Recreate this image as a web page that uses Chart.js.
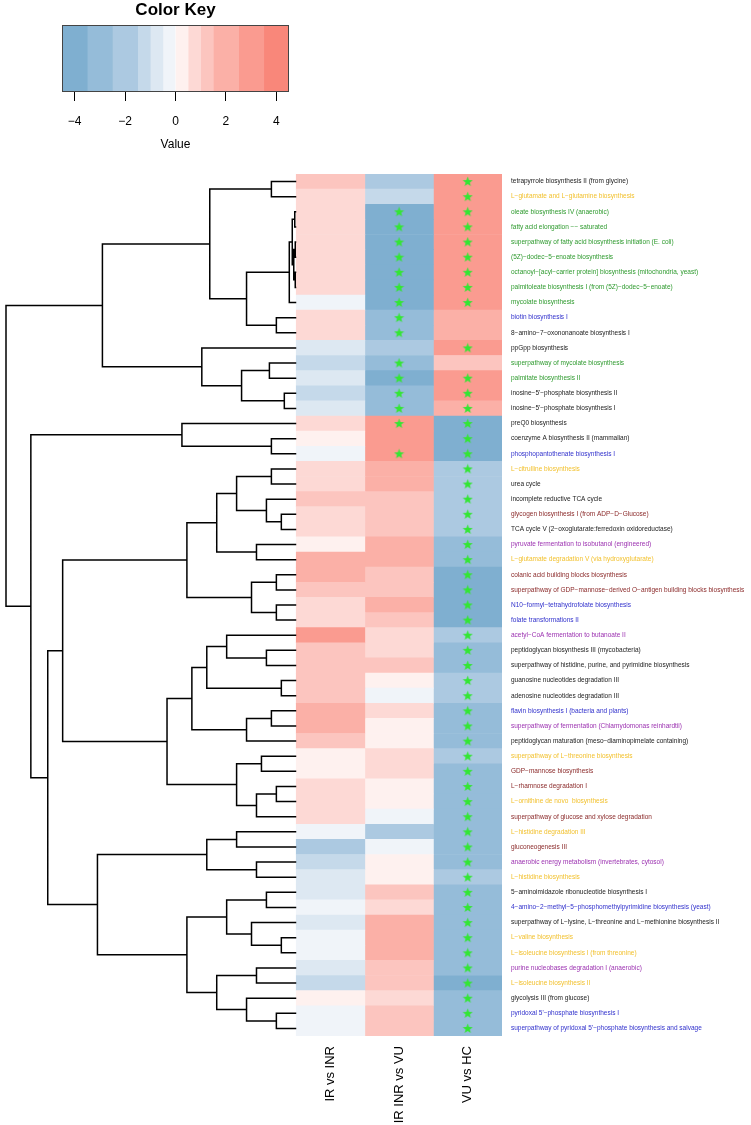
<!DOCTYPE html>
<html><head><meta charset="utf-8">
<script src="https://cdn.jsdelivr.net/npm/chart.js@4.4.1/dist/chart.umd.min.js"></script>
<style>
html,body{margin:0;padding:0;background:#fff;}
#wrap{position:relative;width:751px;height:1125px;overflow:hidden;}
canvas{position:absolute;left:0;top:0;}
</style></head><body>
<div id="wrap">
<canvas id="main" width="751" height="1125"></canvas>
<canvas id="key" width="300" height="160"></canvas>
</div>
<script>
// ---------------- data ----------------
const comparisons = ['IR vs INR', 'IR INR vs VU', 'VU vs HC'];
const pathways = [
 'tetrapyrrole biosynthesis II (from glycine)',
 'L\u2212glutamate and L\u2212glutamine biosynthesis',
 'oleate biosynthesis IV (anaerobic)',
 'fatty acid elongation \u2212\u2212 saturated',
 'superpathway of fatty acid biosynthesis initiation (E. coli)',
 '(5Z)\u2212dodec\u22125\u2212enoate biosynthesis',
 'octanoyl\u2212[acyl\u2212carrier protein] biosynthesis (mitochondria, yeast)',
 'palmitoleate biosynthesis I (from (5Z)\u2212dodec\u22125\u2212enoate)',
 'mycolate biosynthesis',
 'biotin biosynthesis I',
 '8\u2212amino\u22127\u2212oxononanoate biosynthesis I',
 'ppGpp biosynthesis',
 'superpathway of mycolate biosynthesis',
 'palmitate biosynthesis II',
 'inosine\u22125\'\u2212phosphate biosynthesis II',
 'inosine\u22125\'\u2212phosphate biosynthesis I',
 'preQ0 biosynthesis',
 'coenzyme A biosynthesis II (mammalian)',
 'phosphopantothenate biosynthesis I',
 'L\u2212citrulline biosynthesis',
 'urea cycle',
 'incomplete reductive TCA cycle',
 'glycogen biosynthesis I (from ADP\u2212D\u2212Glucose)',
 'TCA cycle V (2\u2212oxoglutarate:ferredoxin oxidoreductase)',
 'pyruvate fermentation to isobutanol (engineered)',
 'L\u2212glutamate degradation V (via hydroxyglutarate)',
 'colanic acid building blocks biosynthesis',
 'superpathway of GDP\u2212mannose\u2212derived O\u2212antigen building blocks biosynthesis',
 'N10\u2212formyl\u2212tetrahydrofolate biosynthesis',
 'folate transformations II',
 'acetyl\u2212CoA fermentation to butanoate II',
 'peptidoglycan biosynthesis III (mycobacteria)',
 'superpathway of histidine, purine, and pyrimidine biosynthesis',
 'guanosine nucleotides degradation III',
 'adenosine nucleotides degradation III',
 'flavin biosynthesis I (bacteria and plants)',
 'superpathway of fermentation (Chlamydomonas reinhardtii)',
 'peptidoglycan maturation (meso\u2212diaminopimelate containing)',
 'superpathway of L\u2212threonine biosynthesis',
 'GDP\u2212mannose biosynthesis',
 'L\u2212rhamnose degradation I',
 'L\u2212ornithine de novo  biosynthesis',
 'superpathway of glucose and xylose degradation',
 'L\u2212histidine degradation III',
 'gluconeogenesis III',
 'anaerobic energy metabolism (invertebrates, cytosol)',
 'L\u2212histidine biosynthesis',
 '5\u2212aminoimidazole ribonucleotide biosynthesis I',
 '4\u2212amino\u22122\u2212methyl\u22125\u2212phosphomethylpyrimidine biosynthesis (yeast)',
 'superpathway of L\u2212lysine, L\u2212threonine and L\u2212methionine biosynthesis II',
 'L\u2212valine biosynthesis',
 'L\u2212isoleucine biosynthesis I (from threonine)',
 'purine nucleobases degradation I (anaerobic)',
 'L\u2212isoleucine biosynthesis II',
 'glycolysis III (from glucose)',
 'pyridoxal 5\'\u2212phosphate biosynthesis I',
 'superpathway of pyridoxal 5\'\u2212phosphate biosynthesis and salvage'
];
// label colour groups: k black, y gold, g green, b blue, r brown, p purple
const pathwayGroups = [
 'k','y','g','g','g','g','g','g','g','b','k','k','g','g','k','k','k','k','b','y',
 'k','k','r','k','p','y','r','r','b','b','p','k','k','k','k','b','p','k','y','r',
 'r','y','r','y','r','p','y','k','b','k','y','y','p','y','k','b','b'
];
const irVsInr = [
 1.25,0.75,0.75,0.75,0.75,0.75,0.75,0.75,-0.25,0.75,0.75,-0.75,-1.25,-0.75,-1.25,-0.75,0.75,0.25,-0.25,0.75,
 0.75,1.25,0.75,0.75,0.25,2,2,1.25,0.75,0.75,3,1.25,1.25,1.25,1.25,2,2,1.25,0.25,0.25,
 0.75,0.75,0.75,-0.25,-2,-1.25,-0.75,-0.75,-0.25,-0.75,-0.25,-0.25,-0.75,-1.25,0.25,-0.25,-0.25
];
const irinrVsVu = [
 -2,-1.25,-4,-4,-4,-4,-4,-4,-4,-3,-3,-2,-3,-4,-3,-3,3,3,3,2,
 2,1.25,1.25,1.25,2,2,1.25,1.25,2,1.25,0.75,0.75,1.25,0.25,-0.25,0.75,0.25,0.25,0.75,0.75,
 0.25,0.25,-0.25,-2,-0.25,0.25,0.25,1.25,0.75,2,2,2,1.25,1.25,0.75,1.25,1.25
];
const vuVsHc = [
 3,3,3,3,3,3,3,3,3,2,2,3,1.25,3,3,2,-4,-4,-4,-2,
 -2,-2,-2,-2,-3,-3,-4,-4,-4,-4,-2,-3,-3,-2,-2,-3,-3,-3,-2,-3,
 -3,-3,-3,-3,-3,-3,-2,-3,-3,-3,-3,-3,-3,-4,-3,-3,-3
];
// significant rows (1-based) marked with a star
const sigIrinrVsVu = [3,4,5,6,7,8,9,10,11,13,14,15,16,17,19];
const sigVuVsHc = [1,2,3,4,5,6,7,8,9,12,14,15,16,17,18,19,20,21,22,23,24,25,26,27,28,29,30,
 31,32,33,34,35,36,37,38,39,40,41,42,43,44,45,46,47,48,49,50,51,52,53,54,55,56,57];
// colour key
const keyBreaks = [-4.5,-3.5,-2.5,-1.5,-1,-0.5,0,0.5,1,1.5,2.5,3.5,4.5];
const keyColors = ['#7fafd0','#95bcd9','#acc9e1','#c5d9ea','#dde8f2','#f0f4f9',
                   '#fef1ef','#fdd9d5','#fcc5bf','#fbb0a7','#fa9b90','#f9877a'];
const keyTicks = [-4,-2,0,2,4];
// row dendrogram: [height, left, right], leaves are 1-based row numbers
const dendroTree =
 [292,
  [195,
   [87, [25,1,2],
        [50, [7, [4, [1.5,3,4], [2.5,[1,5,6],[1,7,8]]], 9], [20,10,11]]],
   [95, 12, [55, [27,13,14], [12,15,16]]]],
  [267,
   [115, 17, [25,18,19]],
   [250,
    [235,
     [110,
      [80, [60, [25,20,21], [30,22,[15,23,24]]], [40,25,26]],
      [45, [20,27,28], [20,29,30]]],
     [130,
      [105, [90, [70,31,[30,32,33]], [15,34,35]], [50,[25,36,37],38]],
      [60, [35,39,40], [40,[20,41,42],43]]]],
    [200,
     [90, [60,44,45], [40,46,47]],
     [110,
      [70, [30,48,49], [45,50,[15,51,52]]],
      [80, [40,53,54], [50,55,[20,56,57]]]]]]]];

// ---------------- helpers ----------------
const FONT = '"Liberation Sans", Arial, Helvetica, sans-serif';
const groupColors = {k:'#1a1a1a', y:'#f2c12e', g:'#2e9a2e', b:'#3030cc', r:'#8b2a2a', p:'#9b30b0'};
function binColor(v){
  for (let i = 0; i < keyColors.length; i++) {
    if (v >= keyBreaks[i] && v < keyBreaks[i+1]) return keyColors[i];
  }
  return v < keyBreaks[0] ? keyColors[0] : keyColors[keyColors.length-1];
}
const colValues = [irVsInr, irinrVsVu, vuVsHc];
const sigLists = [[], sigIrinrVsVu, sigVuVsHc];

// star image used as point style
const starImg = document.createElement('canvas');
starImg.width = 11; starImg.height = 11;
(function(){
  const c = starImg.getContext('2d');
  c.fillStyle = '#33e633';
  c.beginPath();
  for (let i = 0; i < 10; i++) {
    const r = i % 2 === 0 ? 5.3 : 2.2;
    const a = -Math.PI/2 + i*Math.PI/5;
    const px = 5.5 + r*Math.cos(a), py = 5.8 + r*Math.sin(a);
    if (i === 0) c.moveTo(px, py); else c.lineTo(px, py);
  }
  c.closePath(); c.fill();
})();

// dendrogram segments
const dendroPts = [];
function walk(node){
  if (typeof node === 'number') return {y: node - 1, h: 0};
  const [h, a, b] = node;
  const A = walk(a), B = walk(b);
  dendroPts.push({x:A.h, y:A.y}, {x:h, y:A.y}, {x:h, y:B.y}, {x:B.h, y:B.y}, {x:null, y:null});
  return {y: (A.y + B.y)/2, h: h};
}
walk(dendroTree);
const rootH = dendroTree[0];

// ---------------- main chart ----------------
const datasets = [];
comparisons.forEach((name, c) => {
  datasets.push({
    type:'bar', label:name, indexAxis:'y', xAxisID:'x', yAxisID:'y',
    data: colValues[c].map((v, i) => ({y:i, x:[c, c+1]})),
    backgroundColor: colValues[c].map(binColor),
    borderWidth:0, barPercentage:1, categoryPercentage:1, grouped:false, order:3
  });
});
comparisons.forEach((name, c) => {
  if (!sigLists[c].length) return;
  datasets.push({
    type:'scatter', label:name + ' sig', xAxisID:'x', yAxisID:'y',
    data: sigLists[c].map(r => ({x:c + 0.5, y:r - 1})),
    pointStyle: starImg, pointRadius:5, order:1
  });
});
datasets.push({
  type:'line', label:'dendrogram', xAxisID:'xd', yAxisID:'y',
  data: dendroPts, borderColor:'#000', borderWidth:1.5, pointRadius:0,
  spanGaps:false, tension:0, fill:false, order:2, clip:false
});

// geometry of plot region (heatmap left edge 295, right 502, top 174, bottom 1036)
const HM_LEFT = 295, HM_RIGHT = 502, DEND_LEFT = 3, TOP = 174, BOTTOM = 1036;
const colW = (HM_RIGHT - HM_LEFT) / 3;
new Chart(document.getElementById('main'), {
  type:'bar',
  data:{datasets},
  options:{
    responsive:false, animation:false, events:[],
    layout:{padding:{left:DEND_LEFT, top:TOP, right:0, bottom:0}},
    plugins:{legend:{display:false}, tooltip:{enabled:false}, title:{display:false}},
    scales:{
      x:{type:'linear', position:'bottom', offset:false, bounds:'data',
         min: -(HM_LEFT - DEND_LEFT)/colW, max:3,
         grid:{display:false}, border:{display:false},
         afterBuildTicks: s => { s.ticks = comparisons.map((_, i) => ({value:i + 0.5})); },
         ticks:{autoSkip:false, minRotation:90, maxRotation:90, padding:2,
                color:'#000', font:{family:FONT, size:13},
                callback: v => comparisons[Math.floor(v)]},
         afterFit: s => { s.height = 1125 - BOTTOM; s.paddingLeft = 0; s.paddingRight = 0; }},
      xd:{type:'linear', display:false, reverse:true, offset:false, bounds:'data',
          min: -rootH*(HM_RIGHT - HM_LEFT)/(HM_LEFT - DEND_LEFT), max: rootH},
      y:{type:'linear', position:'right', reverse:true, offset:false, bounds:'data',
         min:-0.5, max:pathways.length - 0.5,
         grid:{display:false, drawTicks:false}, border:{display:false},
         afterBuildTicks: s => { s.ticks = pathways.map((_, i) => ({value:i})); },
         ticks:{autoSkip:false, padding:9, font:{family:FONT, size:6.5},
                color: ctx => groupColors[pathwayGroups[ctx.index]],
                callback: (v, i) => pathways[i]},
         afterFit: s => { s.width = 751 - HM_RIGHT; s.paddingTop = 0; s.paddingBottom = 0; }}
    }
  }
});

// ---------------- colour key ----------------
const framePlugin = {
  id:'frame',
  afterDatasetsDraw(chart){
    const {ctx, chartArea:a} = chart;
    ctx.save(); ctx.strokeStyle = '#444'; ctx.lineWidth = 1;
    ctx.strokeRect(Math.round(a.left) + 0.5, Math.round(a.top) + 0.5,
                   Math.round(a.right - a.left) - 1, Math.round(a.bottom - a.top) - 1);
    ctx.restore();
  }
};
new Chart(document.getElementById('key'), {
  type:'bar',
  data:{labels:['key'], datasets: keyColors.map((col, i) => ({
    data:[[keyBreaks[i], keyBreaks[i+1]]], backgroundColor:col, borderWidth:0,
    barPercentage:1, categoryPercentage:1, grouped:false}))},
  options:{
    indexAxis:'y', responsive:false, animation:false, events:[],
    layout:{padding:{left:62, right:11, top:0, bottom:0}},
    plugins:{legend:{display:false}, tooltip:{enabled:false},
      title:{display:true, text:'Color Key', color:'#000',
             font:{family:FONT, size:17, weight:'bold'}, padding:{top:0, bottom:4.6}}},
    scales:{
      y:{display:false},
      x:{type:'linear', min:-4.5, max:4.5, offset:false,
         afterBuildTicks: s => { s.ticks = keyTicks.map(v => ({value:v})); },
         grid:{drawOnChartArea:false, drawTicks:true, tickLength:9, color:'#000', lineWidth:1},
         border:{display:false},
         ticks:{color:'#000', padding:13, font:{family:FONT, size:12},
                callback: v => String(v).replace('-', '\u2212')},
         title:{display:true, text:'Value', color:'#000', font:{family:FONT, size:12},
                padding:{top:8, bottom:8}},
         afterFit: s => { s.height = 160 - 92; }}
    }
  },
  plugins:[framePlugin]
});
</script>
</body></html>
